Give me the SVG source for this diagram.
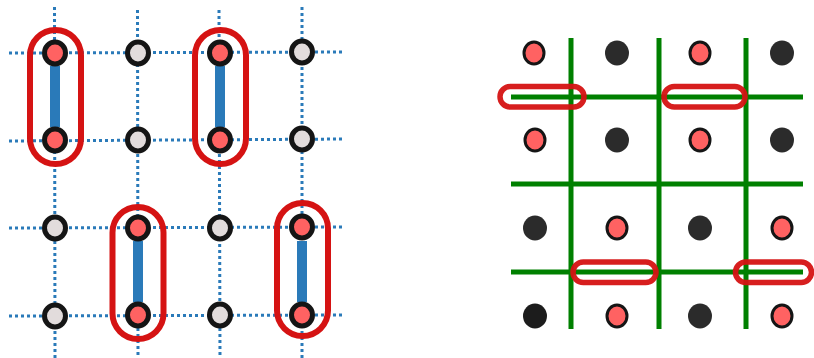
<svg xmlns="http://www.w3.org/2000/svg" width="814" height="358" viewBox="0 0 814 358">
<style>
.dot{stroke:#2a7ab9;stroke-width:3;stroke-dasharray:3,3;fill:none}
.bar{stroke:#2a7ab9;stroke-width:10}
.cap{fill:none;stroke:#d51313;stroke-width:6}
.capR{fill:none;stroke:#d51313;stroke-width:5.5}
.nr{fill:#ff6262;stroke:#151515;stroke-width:5}
.nl{fill:#e2dcdc;stroke:#151515;stroke-width:5}
.g{stroke:#008000;stroke-width:5;fill:none}
.rr{fill:#ff6262;stroke:#151515;stroke-width:3}
.dk{fill:#2b2b2b}
</style>
<rect width="814" height="358" fill="#ffffff"/>
<g id="connectors">
<line class="dot" x1="9" y1="53" x2="345" y2="52"/>
<line class="dot" x1="9" y1="141" x2="345" y2="139"/>
<line class="dot" x1="9" y1="228" x2="345" y2="227"/>
<line class="dot" x1="9" y1="316" x2="345" y2="315"/>
<line class="dot" x1="54.5" y1="7" x2="55" y2="358"/>
<line class="dot" x1="137.5" y1="10" x2="138" y2="358"/>
<line class="dot" x1="219" y1="10" x2="220" y2="358"/>
<line class="dot" x1="302" y1="7" x2="302" y2="358"/>
<line class="bar" x1="55" y1="66" x2="55" y2="127"/>
<line class="bar" x1="220" y1="66" x2="220" y2="127"/>
<line class="bar" x1="138" y1="241" x2="138" y2="302"/>
<line class="bar" x1="302" y1="241" x2="302" y2="302"/>
<line class="g" x1="571" y1="38" x2="571" y2="329"/>
<line class="g" x1="659" y1="38" x2="659" y2="329"/>
<line class="g" x1="746" y1="38" x2="746" y2="329"/>
<line class="g" x1="511" y1="97" x2="803" y2="97"/>
<line class="g" x1="511" y1="184" x2="803" y2="184"/>
<line class="g" x1="511" y1="272" x2="803" y2="272"/>
</g>
<g id="left-nodes">
<g id="L11"><ellipse class="nr" cx="55" cy="53" rx="10.5" ry="11"/></g>
<g id="L12"><ellipse class="nl" cx="138" cy="53" rx="10.5" ry="11"/></g>
<g id="L13"><ellipse class="nr" cx="220" cy="53" rx="10.5" ry="11"/></g>
<g id="L14"><ellipse class="nl" cx="302" cy="52" rx="10.5" ry="11"/></g>
<g id="L21"><ellipse class="nr" cx="55" cy="140" rx="10.5" ry="11"/></g>
<g id="L22"><ellipse class="nl" cx="138" cy="140" rx="10.5" ry="11"/></g>
<g id="L23"><ellipse class="nr" cx="220" cy="140" rx="10.5" ry="11"/></g>
<g id="L24"><ellipse class="nl" cx="302" cy="139" rx="10.5" ry="11"/></g>
<g id="L31"><ellipse class="nl" cx="55" cy="228" rx="10.5" ry="11"/></g>
<g id="L32"><ellipse class="nr" cx="138" cy="228" rx="10.5" ry="11"/></g>
<g id="L33"><ellipse class="nl" cx="220" cy="228" rx="10.5" ry="11"/></g>
<g id="L34"><ellipse class="nr" cx="302" cy="227" rx="10.5" ry="11"/></g>
<g id="L41"><ellipse class="nl" cx="55" cy="316" rx="10.5" ry="11"/></g>
<g id="L42"><ellipse class="nr" cx="138" cy="315" rx="10.5" ry="11"/></g>
<g id="L43"><ellipse class="nl" cx="220" cy="315" rx="10.5" ry="11"/></g>
<g id="L44"><ellipse class="nr" cx="302" cy="315" rx="10.5" ry="11"/></g>
</g>
<g id="left-capsules">
<rect class="cap" x="30" y="30" width="51" height="134" rx="25.5"/>
<rect class="cap" x="195" y="30" width="51" height="134" rx="25.5"/>
<rect class="cap" x="112.5" y="207" width="51" height="132" rx="25.5"/>
<rect class="cap" x="277" y="203" width="51" height="133" rx="25.5"/>
</g>
<g id="right-nodes">
<g id="R11"><ellipse class="rr" cx="534" cy="53" rx="10" ry="11"/></g>
<g id="R12"><ellipse class="dk" cx="617" cy="53" rx="12" ry="12.5"/></g>
<g id="R13"><ellipse class="rr" cx="700" cy="53" rx="10" ry="11"/></g>
<g id="R14"><ellipse class="dk" cx="782" cy="53" rx="12" ry="12.5"/></g>
<g id="R21"><ellipse class="rr" cx="535" cy="140" rx="10" ry="11"/></g>
<g id="R22"><ellipse class="dk" cx="617" cy="140" rx="12" ry="12.5"/></g>
<g id="R23"><ellipse class="rr" cx="700" cy="140" rx="10" ry="11"/></g>
<g id="R24"><ellipse class="dk" cx="782" cy="140" rx="12" ry="12.5"/></g>
<g id="R31"><ellipse class="dk" cx="535" cy="228" rx="12" ry="12.5"/></g>
<g id="R32"><ellipse class="rr" cx="617" cy="228" rx="10" ry="11"/></g>
<g id="R33"><ellipse class="dk" cx="700" cy="228" rx="12" ry="12.5"/></g>
<g id="R34"><ellipse class="rr" cx="782" cy="228" rx="10" ry="11"/></g>
<g id="R41"><ellipse cx="535" cy="316" rx="12" ry="12.5" fill="#1c1c1c"/></g>
<g id="R42"><ellipse class="rr" cx="617" cy="316" rx="10" ry="11"/></g>
<g id="R43"><ellipse class="dk" cx="700" cy="316" rx="12" ry="12.5"/></g>
<g id="R44"><ellipse class="rr" cx="782" cy="316" rx="10" ry="11"/></g>
</g>
<g id="right-capsules" opacity="0.95">
<rect class="capR" x="500" y="86.5" width="84" height="20.5" rx="10.25"/>
<rect class="capR" x="664" y="86.5" width="81" height="20.5" rx="10.25"/>
<rect class="capR" x="573" y="262" width="83" height="20.5" rx="10.25"/>
<rect class="capR" x="735.5" y="262" width="76" height="20.5" rx="10.25"/>
</g>
</svg>
